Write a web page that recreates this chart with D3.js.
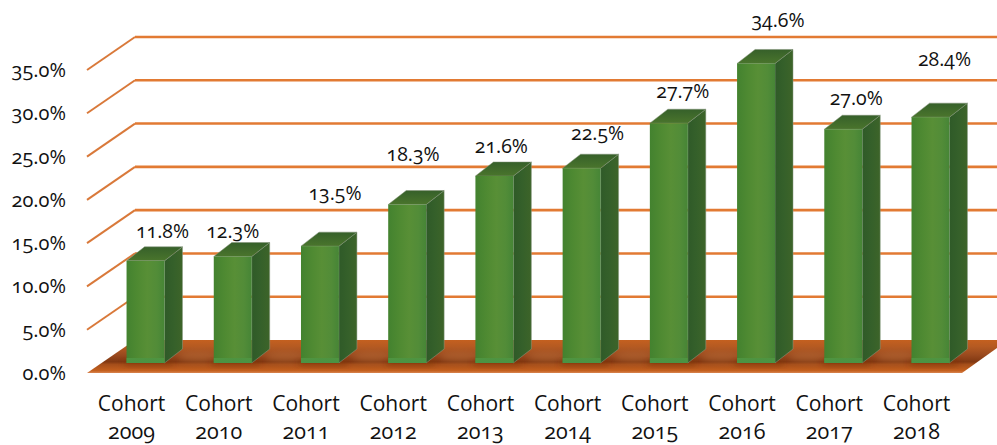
<!DOCTYPE html>
<html><head><meta charset="utf-8">
<script src="https://cdn.jsdelivr.net/npm/d3@7"></script>
<style>
html,body{margin:0;padding:0;background:#fff;overflow:hidden}
text{font-family:"Open Sans","Noto Sans",sans-serif;font-variant-numeric:oldstyle-nums;font-feature-settings:"onum" 1;fill:#111}
</style></head><body>
<svg id="c" width="997" height="445"></svg>
<script>
const categories=["2009","2010","2011","2012","2013","2014","2015","2016","2017","2018"];
const categoryPrefix="Cohort";
const values=[11.8,12.3,13.5,18.3,21.6,22.5,27.7,34.6,27.0,28.4];
const valueLabels=["11.8%","12.3%","13.5%","18.3%","21.6%","22.5%","27.7%","34.6%","27.0%","28.4%"];
const yTicks=[0,5,10,15,20,25,30,35];
const yTickLabels=["0.0%","5.0%","10.0%","15.0%","20.0%","25.0%","30.0%","35.0%"];
// hand-placed label nudges of the original chart, px from the bar centre / top
const labelNudgeX=[17,0,15,6,7,16,14,22,13,14];
const labelNudgeY=[-23,-19,-46,-44,-23,-28,-25,-36,-24,-51];

const svg=d3.select("#c");
const depthX=48,depthY=33,barDX=18,barDY=14;
const front0=373;
const y=d3.scaleLinear().domain([0,35]).range([front0,70]);
const x=d3.scaleBand().domain(categories).range([103,973]).paddingInner(0.565).paddingOuter(0.27);
const barBase=y(0)-10;
const barH=v=>y(0)-y(v);
const defs=svg.append("defs");
function grad(id,dir,stops){
  const g=defs.append("linearGradient").attr("id",id)
   .attr("x1",0).attr("y1",0).attr("x2",dir=="h"?1:0).attr("y2",dir=="h"?0:1);
  stops.forEach(s=>g.append("stop").attr("offset",s[0]).attr("stop-color",s[1]));
}
grad("floor","v",[[0,"#c4601f"],[0.2,"#b55a22"],[0.45,"#9a4a1e"],[0.66,"#813812"],[0.74,"#a54e1a"],[0.93,"#c4601e"],[1,"#d98450"]]);
grad("face","h",[[0,"#43822f"],[0.3,"#4f8a32"],[0.55,"#588f36"],[0.8,"#528c38"],[1,"#468536"]]);
grad("side","h",[[0,"#2f5a28"],[0.5,"#35602a"],[1,"#3d6429"]]);
grad("top","v",[[0,"#36602a"],[1,"#4a752c"]]);
grad("foot","v",[[0,"#4f9440"],[1,"#4a9345"]]);
defs.append("filter").attr("id","soft").attr("x","-50%").attr("y","-100%").attr("width","200%").attr("height","300%")
 .append("feGaussianBlur").attr("stdDeviation",3);

// floor
const floor=svg.append("g");
floor.append("polygon").attr("points",[[87,y(0)],[135,y(0)-depthY],[997,y(0)-depthY],[997,y(0)-25],[962,y(0)]].join(" ")).attr("fill","url(#floor)");
// mottled light patches between bars on the floor
floor.selectAll("ellipse").data(categories.slice(0,9)).enter().append("ellipse")
 .attr("cx",d=>x(d)+x.bandwidth()+34).attr("cy",y(0)-16).attr("rx",20).attr("ry",5)
 .attr("fill","#c87a42").attr("opacity",.4).attr("filter","url(#soft)");

// grid
const gridTicks=yTicks.slice(1);
svg.selectAll("line.diag").data(gridTicks).enter().append("line").attr("class","diag")
 .attr("x1",87).attr("y1",d=>y(d)).attr("x2",87+depthX).attr("y2",d=>y(d)-depthY)
 .attr("stroke","#d9793a").attr("stroke-width",2);
svg.selectAll("line.grid").data(gridTicks).enter().append("line").attr("class","grid")
 .attr("x1",87+depthX).attr("y1",d=>y(d)-depthY).attr("x2",997).attr("y2",d=>y(d)-depthY)
 .attr("stroke","#e27a33").attr("stroke-width",2.6);

// axis labels
svg.selectAll("text.yl").data(yTicks).enter().append("text").attr("class","yl")
 .attr("x",66).attr("y",d=>y(d)+7).attr("text-anchor","end").attr("font-size",20)
 .text((d,i)=>yTickLabels[i]);

// bars
const g=svg.selectAll("g.bar").data(values).enter().append("g").attr("class","bar");
const bx=i=>x(categories[i]), bw=x.bandwidth();
// cast shadow at the foot of each bar
g.append("rect").attr("x",(d,i)=>bx(i)-2).attr("width",bw+10).attr("y",barBase-2).attr("height",4)
 .attr("fill","#7a2f0e").attr("opacity",.7).attr("filter","url(#soft)");
g.append("polygon").attr("fill","url(#side)").attr("stroke","#8a9a84").attr("stroke-width",.5)
 .attr("points",(d,i)=>{const l=bx(i)+bw,t=barBase-barH(d);return [[l,t],[l+barDX,t-barDY],[l+barDX,barBase-barDY],[l,barBase]].join(" ")});
g.append("polygon").attr("fill","url(#top)").attr("stroke","#7f8f75").attr("stroke-width",.5)
 .attr("points",(d,i)=>{const l=bx(i),t=barBase-barH(d);return [[l,t],[l+barDX,t-barDY],[l+bw+barDX,t-barDY],[l+bw,t]].join(" ")});
g.append("rect").attr("fill","url(#face)")
 .attr("x",(d,i)=>bx(i)).attr("width",bw)
 .attr("y",d=>barBase-barH(d)).attr("height",d=>barH(d));
g.append("rect").attr("fill","url(#foot)")
 .attr("x",(d,i)=>bx(i)).attr("width",bw)
 .attr("y",barBase-5).attr("height",5);

// value labels
g.append("text").attr("text-anchor","middle").attr("font-size",19.5)
 .attr("x",(d,i)=>bx(i)+bw/2+labelNudgeX[i])
 .attr("y",(d,i)=>barBase-barH(d)+labelNudgeY[i])
 .text((d,i)=>valueLabels[i]);

// category labels
const cat=svg.selectAll("g.cat").data(categories).enter().append("g").attr("class","cat")
 .attr("transform",d=>`translate(${x(d)+bw/2-14},0)`);
cat.append("text").attr("y",411).attr("text-anchor","middle").attr("font-size",21).text(categoryPrefix);
cat.append("text").attr("y",439).attr("text-anchor","middle").attr("font-size",21.5).text(d=>d);
</script></body></html>
